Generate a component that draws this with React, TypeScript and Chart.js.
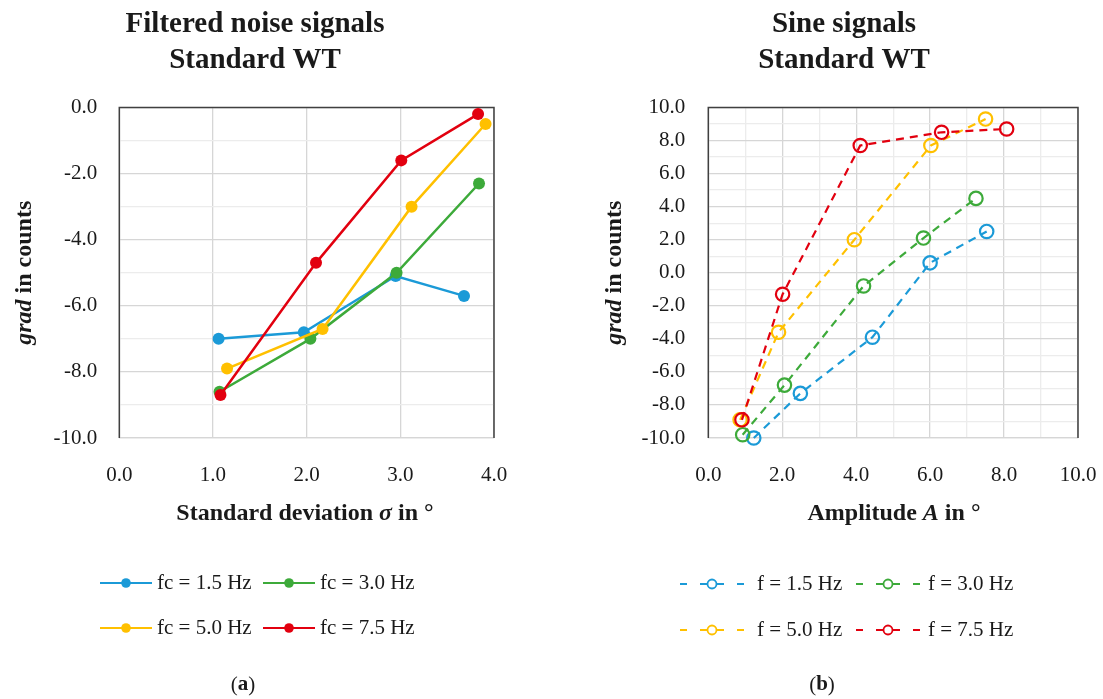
import React, { useEffect, useRef } from 'react';
import { Chart, registerables } from 'chart.js';

Chart.register(...registerables);

// ---- data ----------------------------------------------------------------
const seriesColors = ['#1b9ad7', '#3daa3a', '#ffc000', '#e2000f'];

// (a) filtered noise signals: standard deviation σ in ° vs grad in counts
const noiseLabels = ['fc = 1.5 Hz', 'fc = 3.0 Hz', 'fc = 5.0 Hz', 'fc = 7.5 Hz'];
const noiseSigma15 = [1.06, 1.97, 2.95, 3.68];
const noiseGrad15 = [-7.0, -6.8, -5.1, -5.7];
const noiseSigma30 = [1.07, 2.04, 2.96, 3.84];
const noiseGrad30 = [-8.6, -7.0, -5.0, -2.3];
const noiseSigma50 = [1.15, 2.17, 3.12, 3.91];
const noiseGrad50 = [-7.9, -6.7, -3.0, -0.5];
const noiseSigma75 = [1.08, 2.1, 3.01, 3.83];
const noiseGrad75 = [-8.7, -4.7, -1.6, -0.2];

// (b) sine signals: amplitude A in ° vs grad in counts
const sineLabels = ['f = 1.5 Hz', 'f = 3.0 Hz', 'f = 5.0 Hz', 'f = 7.5 Hz'];
const sineAmp15 = [1.23, 2.49, 4.44, 6.0, 7.53];
const sineGrad15 = [-10.0, -7.3, -3.9, 0.6, 2.5];
const sineAmp30 = [0.93, 2.06, 4.2, 5.82, 7.24];
const sineGrad30 = [-9.8, -6.8, -0.8, 2.1, 4.5];
const sineAmp50 = [0.86, 1.9, 3.95, 6.02, 7.5];
const sineGrad50 = [-8.9, -3.6, 2.0, 7.7, 9.3];
const sineAmp75 = [0.91, 2.01, 4.11, 6.31, 8.07];
const sineGrad75 = [-8.9, -1.3, 7.7, 8.5, 8.7];

// axis ranges [min, max, grid step, label step]
const noiseXAxis = [0, 4, 1, 1];
const noiseYAxis = [-10, 0, 1, 2];
const sineXAxis = [0, 10, 1, 2];
const sineYAxis = [-10, 10, 1, 2];

// ---- styling ---------------------------------------------------------------
const SERIF = '"Liberation Serif", "Times New Roman", serif';
const TEXT = '#1a1a1a';
const GRID_MAJOR = '#d6d6d6';
const GRID_MINOR = '#ececec';
const FRAME = '#404040';
const H = 699;

type Run = { text: string; font: string };

function drawRuns(ctx: CanvasRenderingContext2D, runs: Run[], cx: number, cy: number) {
  const widths = runs.map((r) => {
    ctx.font = r.font;
    return ctx.measureText(r.text).width;
  });
  const total = widths.reduce((a, b) => a + b, 0);
  let x = cx - total / 2;
  ctx.textAlign = 'left';
  ctx.textBaseline = 'middle';
  ctx.fillStyle = TEXT;
  runs.forEach((r, i) => {
    ctx.font = r.font;
    ctx.fillText(r.text, x, cy);
    x += widths[i];
  });
}

const zip = (xs: number[], ys: number[]) => xs.map((x, i) => ({ x, y: ys[i] }));

interface PanelSpec {
  width: number;
  plotLeft: number;
  plotRight: number;
  plotTop: number;
  plotBottom: number;
  titleX: number;
  titleLines: string[];
  xTitle: Run[];
  xTitleX: number;
  yTitleX: number;
  tag: string;
  tagX: number;
  legendLabels: string[];
  legendDashed: boolean;
  legendItems: { cx: number; textX: number }[];
  legendRows: number[];
  xAxis: number[];
  yAxis: number[];
  yTickPad: number;
  datasets: any[];
}

const titleFont = `bold 29px ${SERIF}`;
const axisFont = `bold 24px ${SERIF}`;
const axisItalic = `italic bold 24px ${SERIF}`;
const legendFont = `21px ${SERIF}`;

// labelled grid lines are a bit darker than the unlabelled ones
function gridColor(labelStep: number) {
  return (c: any) => {
    if (!c.tick) return GRID_MAJOR;
    const v = Math.round(c.tick.value);
    return v % labelStep !== 0 ? GRID_MINOR : GRID_MAJOR;
  };
}

function tickLabel(labelStep: number) {
  return (v: number | string) => {
    const n = Number(v);
    return Math.round(n) % labelStep === 0 ? n.toFixed(1) : '';
  };
}

function buildConfig(p: PanelSpec): any {
  const decor = {
    id: 'decor',
    beforeDatasetsDraw(chart: any) {
      const { ctx, chartArea: a } = chart;
      ctx.save();
      ctx.strokeStyle = FRAME;
      ctx.lineWidth = 1.5;
      ctx.beginPath();
      ctx.moveTo(a.left, a.bottom);
      ctx.lineTo(a.left, a.top);
      ctx.lineTo(a.right, a.top);
      ctx.lineTo(a.right, a.bottom);
      ctx.stroke();
      ctx.restore();
    },
    afterDraw(chart: any) {
      const { ctx, chartArea: a } = chart;
      ctx.save();
      // title
      p.titleLines.forEach((line, i) => drawRuns(ctx, [{ text: line, font: titleFont }], p.titleX, 25 + i * 36));
      // axis titles
      drawRuns(ctx, p.xTitle, p.xTitleX, 514);
      ctx.save();
      ctx.translate(p.yTitleX, (a.top + a.bottom) / 2);
      ctx.rotate(-Math.PI / 2);
      drawRuns(ctx, [{ text: 'grad', font: axisItalic }, { text: ' in counts', font: axisFont }], 0, 0);
      ctx.restore();
      // legend
      p.legendLabels.forEach((label, i) => {
        const item = p.legendItems[i % 2];
        const y = p.legendRows[Math.floor(i / 2)];
        const color = seriesColors[i];
        const c = item.cx;
        ctx.strokeStyle = color;
        ctx.lineWidth = 2.2;
        ctx.beginPath();
        if (p.legendDashed) {
          const segs = [[-32, -25], [-12, 12], [25, 32]];
          segs.forEach(([s, e]) => {
            ctx.moveTo(c + s, y);
            ctx.lineTo(c + e, y);
          });
        } else {
          ctx.moveTo(c - 26, y);
          ctx.lineTo(c + 26, y);
        }
        ctx.stroke();
        ctx.beginPath();
        ctx.arc(c, y, p.legendDashed ? 4.5 : 4.8, 0, Math.PI * 2);
        if (p.legendDashed) {
          ctx.fillStyle = '#ffffff';
          ctx.fill();
          ctx.lineWidth = 1.8;
          ctx.stroke();
        } else {
          ctx.fillStyle = color;
          ctx.fill();
        }
        ctx.fillStyle = TEXT;
        ctx.font = legendFont;
        ctx.textAlign = 'left';
        ctx.textBaseline = 'middle';
        ctx.fillText(label, item.textX, y);
      });
      // panel tag
      drawRuns(
        ctx,
        [
          { text: '(', font: `21px ${SERIF}` },
          { text: p.tag, font: `bold 21px ${SERIF}` },
          { text: ')', font: `21px ${SERIF}` },
        ],
        p.tagX,
        685
      );
      ctx.restore();
    },
  };

  const tickFont = { family: SERIF, size: 21 };
  return {
    type: 'scatter',
    data: { datasets: p.datasets },
    plugins: [decor],
    options: {
      animation: false,
      responsive: false,
      events: [],
      layout: {
        padding: {
          left: 0,
          top: p.plotTop,
          right: p.width - p.plotRight,
          bottom: H - p.plotBottom - 60,
        },
      },
      plugins: { legend: { display: false }, tooltip: { enabled: false }, title: { display: false } },
      scales: {
        x: {
          type: 'linear',
          min: p.xAxis[0],
          max: p.xAxis[1],
          afterFit: (s: any) => {
            s.height = 60;
            s.paddingLeft = 0;
            s.paddingRight = 0;
          },
          ticks: {
            stepSize: p.xAxis[2],
            autoSkip: false,
            maxRotation: 0,
            padding: 25,
            color: TEXT,
            font: tickFont,
            callback: tickLabel(p.xAxis[3]),
          },
          grid: { color: gridColor(p.xAxis[3]), lineWidth: 1.3, drawTicks: false },
          border: { color: GRID_MAJOR, width: 1.3 },
        },
        y: {
          type: 'linear',
          min: p.yAxis[0],
          max: p.yAxis[1],
          afterFit: (s: any) => {
            s.width = p.plotLeft;
            s.paddingTop = 0;
            s.paddingBottom = 0;
          },
          ticks: {
            stepSize: p.yAxis[2],
            autoSkip: false,
            padding: p.yTickPad,
            color: TEXT,
            font: tickFont,
            callback: tickLabel(p.yAxis[3]),
          },
          grid: { color: gridColor(p.yAxis[3]), lineWidth: 1.3, drawTicks: false },
          border: { display: false },
        },
      },
    },
  };
}

function solidSeries(xs: number[], ys: number[], i: number) {
  return {
    label: noiseLabels[i],
    data: zip(xs, ys),
    showLine: true,
    borderColor: seriesColors[i],
    backgroundColor: seriesColors[i],
    borderWidth: 2.5,
    pointRadius: 6,
    pointBorderWidth: 0,
    pointBackgroundColor: seriesColors[i],
    order: 4 - i,
    clip: false,
  };
}

function dashedSeries(xs: number[], ys: number[], i: number) {
  return {
    label: sineLabels[i],
    data: zip(xs, ys),
    showLine: true,
    borderColor: seriesColors[i],
    backgroundColor: 'rgba(0,0,0,0)',
    borderWidth: 2.2,
    borderDash: [8, 6],
    pointRadius: 6.7,
    pointBorderWidth: 2.2,
    pointBorderColor: seriesColors[i],
    pointBackgroundColor: 'rgba(0,0,0,0)',
    order: 4 - i,
    clip: false,
  };
}

const noisePanel: PanelSpec = {
  width: 551,
  plotLeft: 119.3,
  plotRight: 494,
  plotTop: 107.5,
  plotBottom: 438,
  titleX: 255,
  titleLines: ['Filtered noise signals', 'Standard WT'],
  xTitle: [
    { text: 'Standard deviation ', font: axisFont },
    { text: 'σ', font: axisItalic },
    { text: ' in °', font: axisFont },
  ],
  xTitleX: 305,
  yTitleX: 25,
  tag: 'a',
  tagX: 243,
  legendLabels: noiseLabels,
  legendDashed: false,
  legendItems: [
    { cx: 126, textX: 157 },
    { cx: 289, textX: 320 },
  ],
  legendRows: [583, 628],
  xAxis: noiseXAxis,
  yAxis: noiseYAxis,
  yTickPad: 22,
  datasets: [
    solidSeries(noiseSigma15, noiseGrad15, 0),
    solidSeries(noiseSigma30, noiseGrad30, 1),
    solidSeries(noiseSigma50, noiseGrad50, 2),
    solidSeries(noiseSigma75, noiseGrad75, 3),
  ],
};

const sinePanel: PanelSpec = {
  width: 552,
  plotLeft: 157.3,
  plotRight: 527,
  plotTop: 107.5,
  plotBottom: 438,
  titleX: 293,
  titleLines: ['Sine signals', 'Standard WT'],
  xTitle: [
    { text: 'Amplitude ', font: axisFont },
    { text: 'A', font: axisItalic },
    { text: ' in °', font: axisFont },
  ],
  xTitleX: 343,
  yTitleX: 64,
  tag: 'b',
  tagX: 271,
  legendLabels: sineLabels,
  legendDashed: true,
  legendItems: [
    { cx: 161, textX: 206 },
    { cx: 337, textX: 377 },
  ],
  legendRows: [584, 630],
  xAxis: sineXAxis,
  yAxis: sineYAxis,
  yTickPad: 23,
  datasets: [
    dashedSeries(sineAmp15, sineGrad15, 0),
    dashedSeries(sineAmp30, sineGrad30, 1),
    dashedSeries(sineAmp50, sineGrad50, 2),
    dashedSeries(sineAmp75, sineGrad75, 3),
  ],
};

function Panel({ spec, left }: { spec: PanelSpec; left: number }) {
  const ref = useRef<HTMLCanvasElement>(null);
  useEffect(() => {
    const chart = new Chart(ref.current as HTMLCanvasElement, buildConfig(spec));
    return () => chart.destroy();
  }, [spec]);
  return (
    <canvas
      ref={ref}
      width={spec.width}
      height={H}
      style={{ position: 'absolute', left, top: 0, width: spec.width, height: H }}
    />
  );
}

export default function App() {
  return (
    <div style={{ position: 'absolute', left: 0, top: 0, width: 1103, height: H, background: '#ffffff' }}>
      <Panel spec={noisePanel} left={0} />
      <Panel spec={sinePanel} left={551} />
    </div>
  );
}
